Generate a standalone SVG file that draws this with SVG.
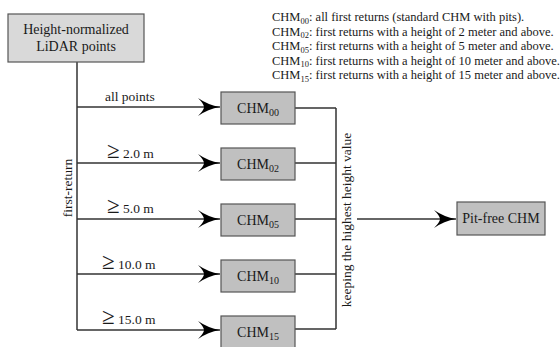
<svg xmlns="http://www.w3.org/2000/svg" width="560" height="347" viewBox="0 0 560 347">
<style>
text,tspan{font-family:"Liberation Serif","Times New Roman",serif;fill:#1a1a1a}
.box{fill:#c0c0c0;stroke:#555;stroke-width:1.2}
.src{fill:#d9d9d9;stroke:#555;stroke-width:1.2}
.ln{stroke:#333;stroke-width:1.5;fill:none}
.lbl{font-size:13.5px}
.ge{font-size:23px}
.node{font-size:14px;text-anchor:middle}
.sub{font-size:10px}
.leg{font-size:12.5px}
.ls{font-size:8.5px}
</style>
<defs>
<marker id="ah" markerUnits="userSpaceOnUse" markerWidth="24" markerHeight="20" viewBox="0 -10 24 20" refX="22" refY="0" orient="auto">
<path d="M22,0 Q10,-2 0,-9 Q6,-3 6,0 Q6,3 0,9 Q10,2 22,0 Z" fill="#000"/>
</marker>
</defs>
<rect width="560" height="347" fill="#fff"/>
<g id="legend">
<text class="leg" x="272" y="21">CHM<tspan class="ls" dy="2.5">00</tspan><tspan dy="-2.5">: all first returns (standard CHM with pits).</tspan></text>
<text class="leg" x="272" y="35.5">CHM<tspan class="ls" dy="2.5">02</tspan><tspan dy="-2.5">: first returns with a height of 2 meter and above.</tspan></text>
<text class="leg" x="272" y="50">CHM<tspan class="ls" dy="2.5">05</tspan><tspan dy="-2.5">: first returns with a height of 5 meter and above.</tspan></text>
<text class="leg" x="272" y="64.5">CHM<tspan class="ls" dy="2.5">10</tspan><tspan dy="-2.5">: first returns with a height of 10 meter and above.</tspan></text>
<text class="leg" x="272" y="79">CHM<tspan class="ls" dy="2.5">15</tspan><tspan dy="-2.5">: first returns with a height of 15 meter and above.</tspan></text>
</g>
<g id="connectors">
<path class="ln" d="M77,62 V330"/>
<path class="ln" d="M77,107 H220" marker-end="url(#ah)"/>
<path class="ln" d="M77,163 H220" marker-end="url(#ah)"/>
<path class="ln" d="M77,219 H220" marker-end="url(#ah)"/>
<path class="ln" d="M77,274 H220" marker-end="url(#ah)"/>
<path class="ln" d="M77,330 H220" marker-end="url(#ah)"/>
<path class="ln" d="M295,108 H336 M295,163 H336 M295,219 H336 M295,274 H336 M295,329 H336 M336,108 V329"/>
<path class="ln" d="M357,219 H456" marker-end="url(#ah)"/>
<text class="lbl" x="105" y="101">all points</text>
<text class="lbl" x="107" y="158"><tspan class="ge">≥</tspan> 2.0 m</text>
<text class="lbl" x="107" y="213"><tspan class="ge">≥</tspan> 5.0 m</text>
<text class="lbl" x="102" y="269"><tspan class="ge">≥</tspan> 10.0 m</text>
<text class="lbl" x="102" y="324"><tspan class="ge">≥</tspan> 15.0 m</text>
<text class="lbl" transform="translate(72,188) rotate(-90)" text-anchor="middle">first-return</text>
<text class="lbl" transform="translate(351,220) rotate(-90)" text-anchor="middle">keeping the highest height value</text>
</g>
<g id="n-src">
<rect class="src" x="8" y="14" width="136" height="48"/>
<text class="node" x="76" y="34">Height-normalized</text>
<text class="node" x="76" y="51">LiDAR points</text>
</g>
<g id="n-chm00">
<rect class="box" x="221" y="92" width="74" height="32"/>
<text class="node" x="258" y="113">CHM<tspan class="sub" dy="3">00</tspan></text>
</g>
<g id="n-chm02">
<rect class="box" x="221" y="148" width="74" height="32"/>
<text class="node" x="258" y="169">CHM<tspan class="sub" dy="3">02</tspan></text>
</g>
<g id="n-chm05">
<rect class="box" x="221" y="204" width="74" height="32"/>
<text class="node" x="258" y="225">CHM<tspan class="sub" dy="3">05</tspan></text>
</g>
<g id="n-chm10">
<rect class="box" x="221" y="260" width="74" height="32"/>
<text class="node" x="258" y="281">CHM<tspan class="sub" dy="3">10</tspan></text>
</g>
<g id="n-chm15">
<rect class="box" x="221" y="316" width="74" height="32"/>
<text class="node" x="258" y="337">CHM<tspan class="sub" dy="3">15</tspan></text>
</g>
<g id="n-pitfree">
<rect class="box" x="457" y="202" width="88" height="33"/>
<text class="node" x="501" y="223">Pit-free CHM</text>
</g>
</svg>
